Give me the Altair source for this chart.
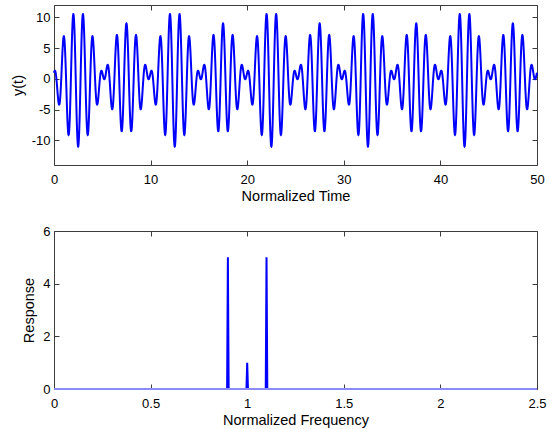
import altair as alt
import numpy as np
import pandas as pd

# Signal components: frequency, amplitude and cosine phase (degrees)
comp_freq = [0.9, 1.0, 1.1]
comp_amp = [5.0, 1.0, 5.0]
comp_phase_deg = [90.0, 0.0, -90.0]

# Sampling of the time record and of the frequency axis
t_start, t_end, t_step = 0.0, 50.0, 0.01
f_end, f_step = 2.5, 0.004

time_ticks = [0, 10, 20, 30, 40, 50]
signal_ticks = [-10, -5, 0, 5, 10]
freq_ticks = [0, 0.5, 1, 1.5, 2, 2.5]
resp_ticks = [0, 2, 4, 6]

time_domain = [0, 50]
signal_domain = [-14, 12]
freq_domain = [0, 2.5]
resp_domain = [0, 6]

# Time-domain record: sum of the components
t = np.arange(t_start, t_end + t_step / 2, t_step)
y = np.zeros_like(t)
for f, a, p in zip(comp_freq, comp_amp, comp_phase_deg):
    y += a * np.cos(2 * np.pi * f * t + np.deg2rad(p))
sig = pd.DataFrame({"t": t, "y": y})

# Amplitude response on a discrete frequency grid
n_bins = int(round(f_end / f_step)) + 1
freq = np.arange(n_bins) * f_step
resp = np.zeros(n_bins)
for f, a in zip(comp_freq, comp_amp):
    resp[int(round(f / f_step))] = a
spec = pd.DataFrame({"f": freq, "r": resp})

FONT = "Liberation Sans"
BLUE = "#0000ff"
LABEL = "'' + datum.value"


def main_axis(orient, values, title):
    return alt.Axis(
        orient=orient, values=values, title=title, labelExpr=LABEL,
        offset=-5, tickSize=5, domain=False, grid=False,
        labelFlush=False, labelOverlap=False,
        labelPadding=8 if orient == "bottom" else 4,
        titlePadding=3 if orient == "bottom" else 6,
    )


def mirror_axis(orient, values):
    return alt.Axis(
        orient=orient, values=values, title=None, labels=False,
        offset=-5, tickSize=5, domain=False, grid=False,
    )


def panel(df, xf, yf, xdom, ydom, xticks, yticks, xtitle, ytitle):
    xs = alt.Scale(domain=xdom, nice=False, zero=False)
    ys = alt.Scale(domain=ydom, nice=False, zero=False)
    line = alt.Chart(df).mark_line(color=BLUE, strokeWidth=2).encode(
        x=alt.X(f"{xf}:Q", scale=xs, axis=main_axis("bottom", xticks, xtitle)),
        y=alt.Y(f"{yf}:Q", scale=ys, axis=main_axis("left", yticks, ytitle)),
    )
    frame_ticks = alt.Chart(df).mark_line(opacity=0).encode(
        x=alt.X(f"{xf}:Q", scale=xs, axis=mirror_axis("top", xticks)),
        y=alt.Y(f"{yf}:Q", scale=ys, axis=mirror_axis("right", yticks)),
    )
    return line, frame_ticks, ys


sig_line, sig_frame, _ = panel(sig, "t", "y", time_domain, signal_domain,
                               time_ticks, signal_ticks, "Normalized Time", "y(t)")
top = alt.layer(sig_line, sig_frame).properties(width=483, height=160)

spec_line, spec_frame, resp_scale = panel(spec, "f", "r", freq_domain, resp_domain,
                                          freq_ticks, resp_ticks, "Normalized Frequency", "Response")
# zero level of the response drawn in a lighter tint
baseline = alt.Chart(spec).transform_calculate(zero="0").mark_rule(
    color="#8c8cf8", strokeWidth=2
).encode(y=alt.Y("zero:Q", scale=resp_scale, axis=None))
bottom = alt.layer(spec_line, spec_frame, baseline).properties(width=483, height=158)

chart = alt.vconcat(top, bottom, spacing=21).properties(
    padding={"left": 9, "top": 4, "right": 5, "bottom": 2}
).configure_view(
    stroke="#3c3c3c", strokeWidth=1
).configure_axis(
    labelFont=FONT, labelFontSize=13, labelColor="#000000",
    titleFont=FONT, titleFontSize=14.5, titleFontWeight="normal", titleColor="#000000",
    tickColor="#3c3c3c", tickWidth=1,
)

chart.save("out.html", embed_options={"renderer": "svg", "actions": False})
